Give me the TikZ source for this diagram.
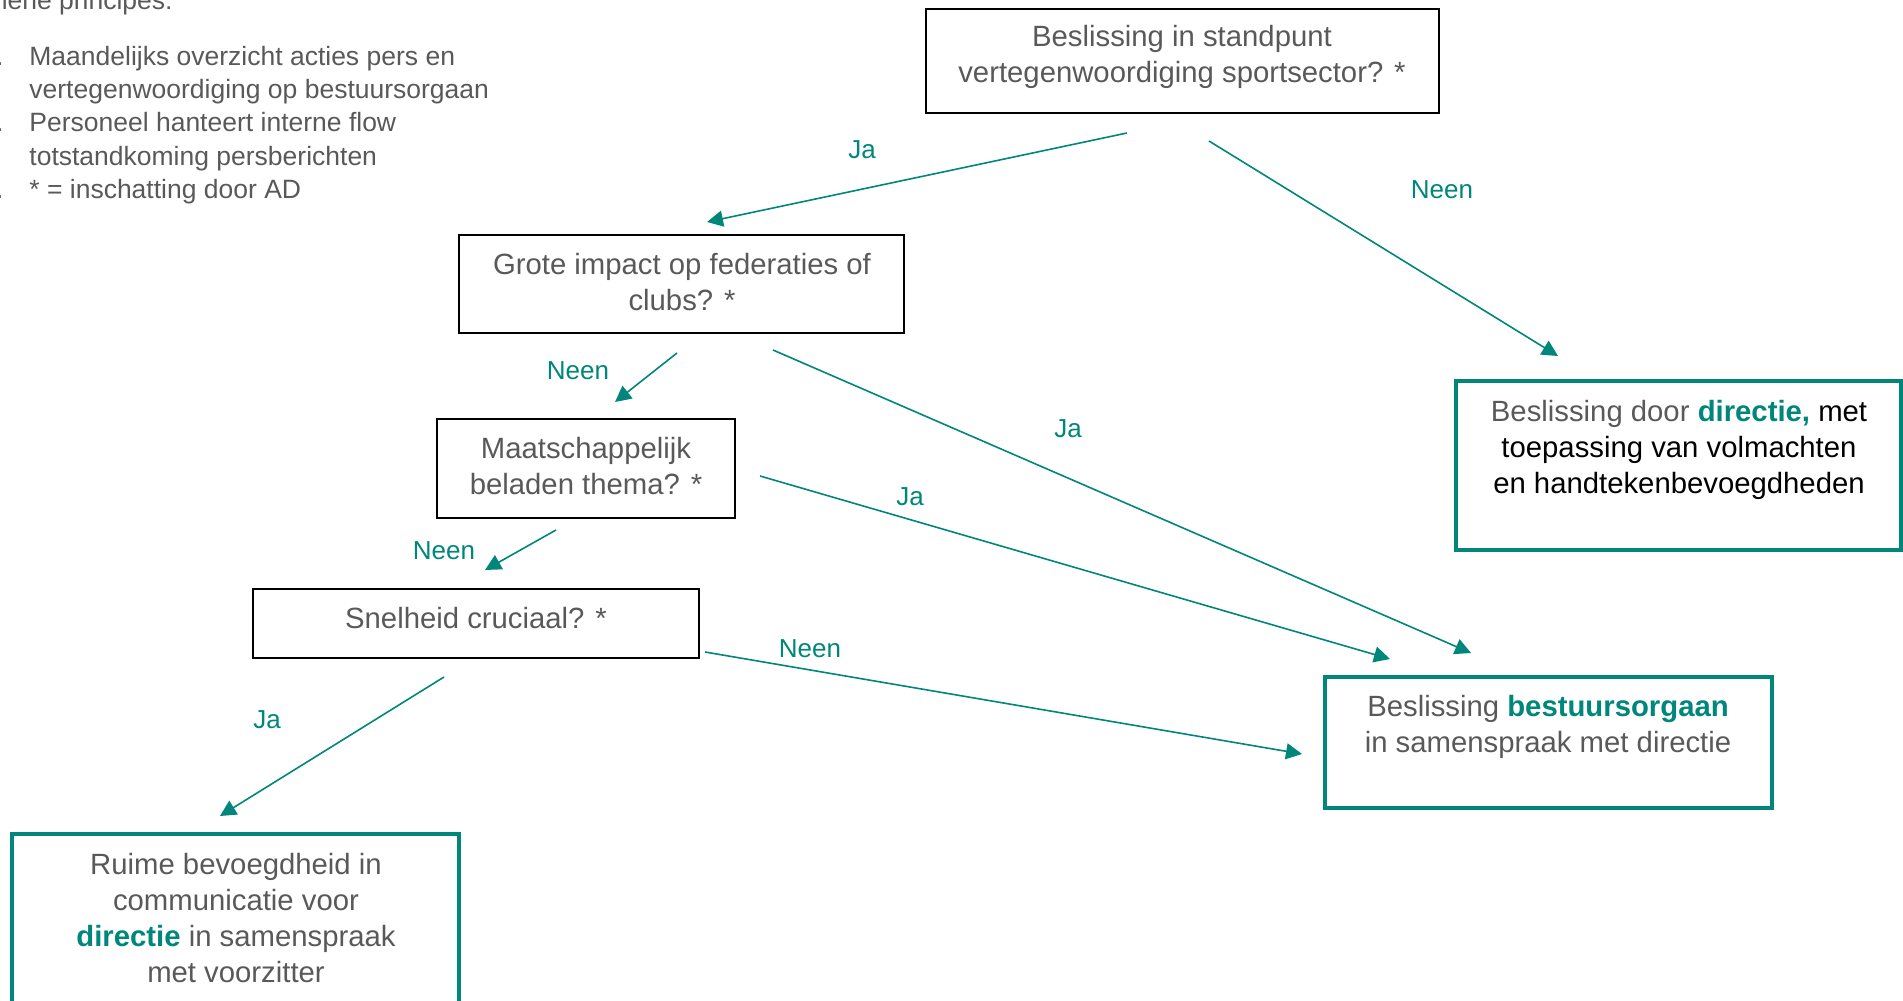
\documentclass[tikz,border=0pt]{standalone}
\usepackage{fontspec}
\setmainfont{Liberation Sans}
\usetikzlibrary{arrows.meta,fit}
\definecolor{tealc}{RGB}{0,134,123}
\definecolor{txtgray}{RGB}{89,89,89}
\begin{document}
\begin{tikzpicture}[x=0.5pt,y=-0.5pt,
  qbox/.style={draw=black, line width=1pt, inner sep=0pt},
  abox/.style={draw=tealc, line width=2pt, inner sep=0pt},
  btxt/.style={font=\fontsize{14.65}{18}\selectfont, text=txtgray, align=center, inner sep=0pt, anchor=base},
  ltxt/.style={font=\fontsize{13.25}{16.7}\selectfont, text=txtgray, align=left, inner sep=0pt, anchor=base west},
  mtxt/.style={font=\fontsize{13.25}{16.7}\selectfont, text=txtgray, inner sep=0pt, anchor=base east},
  lab/.style={font=\fontsize{13}{15}\selectfont, text=tealc, inner sep=0pt, anchor=base},
  arr/.style={draw=tealc, line width=0.8pt, -{Triangle[length=8pt,width=8pt]}}]
\path[use as bounding box] (0,0) rectangle (1903,1001);
\clip (0,0) rectangle (1903,1001);

% header text
\node[mtxt] (title) at (173,10) {Algemene principes:};
\node[mtxt] (n1) at (4,65) {1.};
\node[mtxt] (n2) at (4,131.8) {2.};
\node[mtxt] (n3) at (4,198.6) {3.};
\node[ltxt] (l1) at (29,198.6) {Maandelijks overzicht acties pers en\\vertegenwoordiging op bestuursorgaan\\Personeel hanteert interne flow\\totstandkoming persberichten\\* = inschatting door AD};

% boxes
\node[qbox, fit={(926,9)(1439,113)}] (q1) {};
\node[qbox, fit={(459,235)(904,333)}] (q2) {};
\node[qbox, fit={(437,419)(735,518)}] (q3) {};
\node[qbox, fit={(253,589)(699,658)}] (q4) {};
\node[abox, fit={(1456,381)(1901,550)}] (r1) {};
\node[abox, fit={(1325,677)(1772,808)}] (r2) {};
\node[abox, fit={(12,834)(459,1003)}] (r3) {};

% box texts (anchor = baseline of last line)
\node[btxt] (t1) at (1182,83) {Beslissing in standpunt\\vertegenwoordiging sportsector? *};
\node[btxt] (t2) at (682,310) {Grote impact op federaties of\\clubs? *};
\node[btxt] (t3) at (586,494) {Maatschappelijk\\beladen thema? *};
\node[btxt] (t4) at (476,628) {Snelheid cruciaal? *};
\node[btxt] (t5) at (1679,493) {Beslissing door {\bfseries\color{tealc}directie,} {\color{black}met}\\{\color{black}toepassing van volmachten}\\{\color{black}en handtekenbevoegdheden}};
\node[btxt] (t6) at (1548,752) {Beslissing {\bfseries\color{tealc}bestuursorgaan}\\in samenspraak met directie};
\node[btxt] (t7) at (236,982) {Ruime bevoegdheid in\\communicatie voor\\{\bfseries\color{tealc}directie} in samenspraak\\met voorzitter};

% connector end points
\coordinate (a1s) at (1127,133); \coordinate (a1e) at (707,222);
\coordinate (a2s) at (1209,141); \coordinate (a2e) at (1558,356);
\coordinate (a3s) at (677,353);  \coordinate (a3e) at (615,402);
\coordinate (a4s) at (773,350);  \coordinate (a4e) at (1471,653);
\coordinate (a5s) at (760,476);  \coordinate (a5e) at (1390,659);
\coordinate (a6s) at (556,530);  \coordinate (a6e) at (485,570);
\coordinate (a7s) at (705,652);  \coordinate (a7e) at (1302,754);
\coordinate (a8s) at (444,677);  \coordinate (a8e) at (220,816);

\draw[arr] (a1s) -- (a1e);
\draw[arr] (a2s) -- (a2e);
\draw[arr] (a3s) -- (a3e);
\draw[arr] (a4s) -- (a4e);
\draw[arr] (a5s) -- (a5e);
\draw[arr] (a6s) -- (a6e);
\draw[arr] (a7s) -- (a7e);
\draw[arr] (a8s) -- (a8e);

% labels
\node[lab] (j1) at (862,158) {Ja};
\node[lab] (n1l) at (1442,198) {Neen};
\node[lab] (n2l) at (578,379) {Neen};
\node[lab] (j2) at (1068,437) {Ja};
\node[lab] (j3) at (910,505) {Ja};
\node[lab] (n3l) at (444,559) {Neen};
\node[lab] (n4l) at (810,657) {Neen};
\node[lab] (j4) at (267,728) {Ja};
\end{tikzpicture}
\end{document}
